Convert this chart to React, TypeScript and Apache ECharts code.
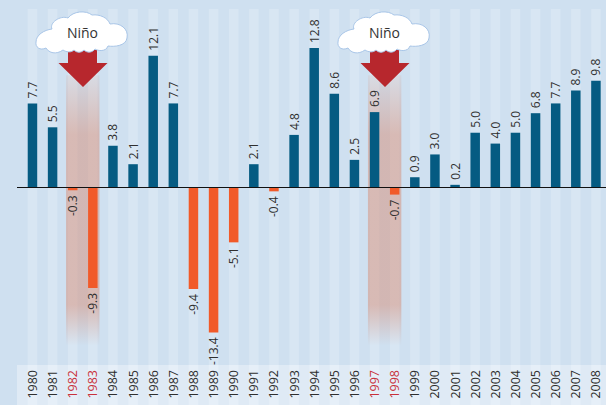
import React, { useEffect, useRef } from "react";
import * as echarts from "echarts";

const years = ["1980","1981","1982","1983","1984","1985","1986","1987","1988","1989","1990","1991","1992","1993","1994","1995","1996","1997","1998","1999","2000","2001","2002","2003","2004","2005","2006","2007","2008"];
const values = [7.7,5.5,-0.3,-9.3,3.8,2.1,12.1,7.7,-9.4,-13.4,-5.1,2.1,-0.4,4.8,12.8,8.6,2.5,6.9,-0.7,0.9,3.0,0.2,5.0,4.0,5.0,6.8,7.7,8.9,9.8];
const ninoYears = [["1982","1983"],["1997","1998"]];
const ninoLabel = "Niño";
const redYears = ninoYears.flat();

const FONT = "'Open Sans', sans-serif";
const BAND_LEFT = 22.4, BAND_WIDTH = 584;
const CLOUD = "M36 42C36 35 44 30 52 29C49 23 60 15 68 18C73 11 86 10 92 15C100 14 108 18 110 24C120 22 129 29 127 38C126 46 114 47 108 46C106 52 98 51 95 49C92 53 87 53 84 50C81 53 77 53 74 50C71 53 66 52 63 50C56 55 49 53 46 48C40 51 35 47 36 42Z";

echarts.graphic.registerShape("ninoCloud", echarts.graphic.extendPath(CLOUD as any, {}) as any);

export default function App() {
  const ref = useRef<HTMLDivElement>(null);
  useEffect(() => {
    document.body.style.margin = "0";
    const chart = echarts.init(ref.current!, null, { renderer: "svg" });
    const decor = (dx: number) => [
      { type: "polygon", z: 20, silent: true,
        shape: { points: [[68+dx,50],[97+dx,50],[97+dx,63],[107.5+dx,63],[83+dx,87],[58.5+dx,63],[68+dx,63]] },
        style: { fill: "#b7272d" } },
      { type: "ninoCloud", z: 21, x: dx, y: 0, silent: true,
        style: { fill: "#ffffff", stroke: "#a9c6e8", lineWidth: 1 } },
      { type: "text", z: 22, x: 82.5+dx, y: 32, silent: true,
        style: { text: ninoLabel, fill: "#333333", font: `14px ${FONT}`, textAlign: "center", textVerticalAlign: "middle" } },
    ];
    chart.setOption({
      animation: false,
      backgroundColor: "#cfe0f0",
      graphic: [
        { type: "rect", z: 0, shape: { x: 17, y: 365, width: 589, height: 40 }, style: { fill: "#dfeaf5" } },
        { type: "rect", z: 10, shape: { x: 17, y: 187, width: 7, height: 1 }, style: { fill: "#111111" } },
        ...decor(0),
        ...decor(302),
      ],
      grid: [
        { left: BAND_LEFT, width: BAND_WIDTH, top: 9, height: 356 },
        { left: BAND_LEFT, width: BAND_WIDTH, top: 365, height: 40 },
      ],
      xAxis: [
        { type: "category", gridIndex: 0, data: years, axisTick: { show: false }, axisLabel: { show: false },
          axisLine: { show: true, onZero: true, lineStyle: { color: "#111111", width: 1 } }, z: 10 },
        { type: "category", gridIndex: 1, data: years, show: false },
      ],
      yAxis: [
        { type: "value", gridIndex: 0, min: -16.4, max: 16.4, show: false },
        { type: "value", gridIndex: 1, min: 0, max: 1, show: false },
      ],
      series: [
        { type: "bar", xAxisIndex: 0, yAxisIndex: 0, z: 0, barWidth: 9.5, barGap: "-100%", silent: true,
          showBackground: true, backgroundStyle: { color: "#d8e6f3" }, data: years.map(() => 0) },
        { type: "bar", xAxisIndex: 1, yAxisIndex: 1, z: 1, barWidth: 9.5, silent: true,
          itemStyle: { color: "#e6eff8" },
          data: years.map((y) => ({
            value: 1,
            label: {
              show: true, rotate: 90, position: "insideTop", distance: 5,
              align: "right", verticalAlign: "middle", formatter: y,
              fontSize: 12.5, fontFamily: FONT, color: redYears.includes(y) ? "#c8323c" : "#2f2f2f",
            },
          })) },
        { type: "custom", xAxisIndex: 0, yAxisIndex: 0, z: 1, silent: true,
          data: ninoYears.map(([a, b]) => [a, b]),
          encode: { x: [0, 1] },
          renderItem: (_p: any, api: any) => {
            const bw = api.size([1, 0])[0];
            const x0 = api.coord([api.value(0), 0])[0] - bw * 0.33;
            const x1 = api.coord([api.value(1), 0])[0] + bw * 0.33;
            const top = api.coord([0, 10.3])[1];
            const bottom = api.coord([0, -14.6])[1];
            return {
              type: "rect",
              shape: { x: x0, y: top, width: x1 - x0, height: bottom - top },
              style: {
                fill: new echarts.graphic.LinearGradient(0, 0, 0, 1, [
                  { offset: 0, color: "rgba(215,125,95,0.10)" },
                  { offset: 0.22, color: "rgba(215,125,95,0.42)" },
                  { offset: 0.85, color: "rgba(215,125,95,0.42)" },
                  { offset: 1, color: "rgba(215,125,95,0)" },
                ]),
              },
            };
          },
        },
        { type: "bar", xAxisIndex: 0, yAxisIndex: 0, z: 3, barWidth: 9.5, barGap: "-100%",
          data: values.map((v) => ({
            value: v,
            itemStyle: { color: v < 0 ? "#f15a29" : "#055b82" },
            label: {
              show: true, rotate: 90, position: v < 0 ? "bottom" : "top", distance: 5,
              align: v < 0 ? "right" : "left", verticalAlign: "middle",
              formatter: v.toFixed(1), fontSize: 12, fontFamily: FONT, color: "#2f2f2f",
            },
          })) },
      ],
    } as any);
    return () => chart.dispose();
  }, []);
  return <div ref={ref} style={{ width: 606, height: 405 }} />;
}
